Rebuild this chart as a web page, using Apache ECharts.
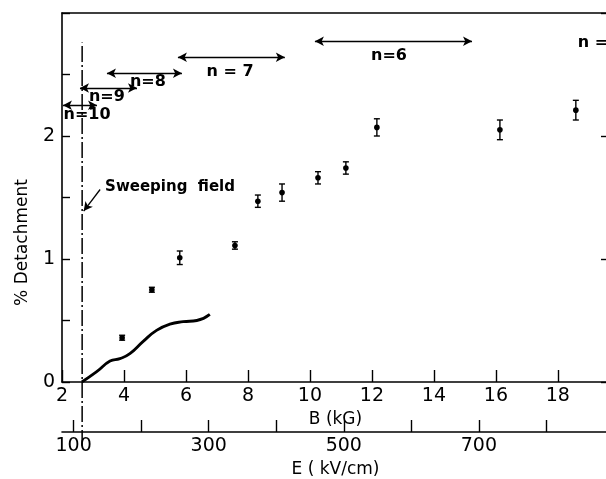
<!DOCTYPE html>
<html>
<head>
<meta charset="utf-8">
<script src="https://cdn.jsdelivr.net/npm/echarts@6/dist/echarts.min.js"></script>
<style>
html, body { margin: 0; padding: 0; background: #fff; }
#main { width: 606px; height: 479px; }
</style>
</head>
<body>
<div id="main"></div>
<script>
// measured points: B (kG), % detachment, error bar half-height
var fieldB = [3.94, 4.9, 5.8, 7.58, 8.32, 9.1, 10.26, 11.16, 12.16, 16.13, 18.58];
var detach = [0.36, 0.75, 1.01, 1.11, 1.47, 1.54, 1.66, 1.74, 2.07, 2.05, 2.21];
var detachErr = [0.02, 0.02, 0.055, 0.03, 0.05, 0.07, 0.05, 0.05, 0.07, 0.08, 0.08];

// calculated curve
var curveB = [2.64, 3.12, 3.55, 3.87, 4.19, 4.62, 5.05, 5.48, 5.91, 6.35, 6.77];
var curveVal = [0, 0.084, 0.17, 0.19, 0.23, 0.33, 0.42, 0.47, 0.49, 0.5, 0.55];

// n ranges (arrows) and their labels
var nText = ['n=10', 'n=9', 'n=8', 'n = 7', 'n=6', 'n = 5'];
var nFrom = [2.03, 2.58, 3.45, 5.74, 10.16, 18.45];
var nTo = [3.13, 4.42, 5.87, 9.19, 15.23, 20.5];
var nLevel = [2.25, 2.39, 2.51, 2.64, 2.77, 2.89];
var nLabelB = [2.81, 3.45, 4.77, 7.42, 12.55, 19.4];
var nLabelY = [2.17, 2.32, 2.44, 2.52, 2.65, 2.76];

// sweeping field line
var sweepB = 2.65;
var sweepTop = 2.76;
var sweepBottom = -0.52;

// E axis ticks
var eTicks = [100, 200, 300, 400, 500, 600, 700, 800];
var eLabels = [100, 300, 500, 700];

var font = 'DejaVu Sans';
var black = '#000';

var errData = fieldB.map(function (b, i) { return [b, detach[i], detachErr[i]]; });
var curveData = curveB.map(function (b, i) { return [b, curveVal[i]]; });
var arrowData = nText.map(function (t, i) {
    return [{ coord: [nFrom[i], nLevel[i]] }, { coord: [nTo[i], nLevel[i]] }];
});
var labelData = nText.map(function (t, i) { return [nLabelB[i], nLabelY[i], t]; });

var myChart = echarts.init(document.getElementById('main'));
var option = {
    animation: false,
    grid: { left: 62, top: 13, right: -3, bottom: 97, outerBoundsMode: 'none' },
    xAxis: [
        {
            type: 'value', min: 2, max: 19.65, interval: 2, position: 'bottom',
            axisLine: { onZero: false, lineStyle: { color: black, width: 1.6 } },
            axisTick: { inside: true, length: 12, lineStyle: { color: black, width: 1.4 } },
            axisLabel: {
                color: black, fontSize: 19, fontFamily: font, margin: 5,
                formatter: function (v) { return (v % 2 === 0 && v < 19) ? v : ''; }
            },
            splitLine: { show: false },
            name: 'B (kG)', nameLocation: 'middle', nameGap: 24,
            nameTextStyle: { color: black, fontSize: 17, fontFamily: font }
        },
        {
            type: 'value', min: 82.8, max: 892.6, position: 'bottom', offset: 50,
            axisLine: { onZero: false, lineStyle: { color: black, width: 1.6 } },
            axisTick: { inside: true, length: 12, customValues: eTicks, lineStyle: { color: black, width: 1.4 } },
            axisLabel: { color: black, fontSize: 19, fontFamily: font, margin: 5, customValues: eLabels },
            splitLine: { show: false },
            name: 'E ( kV/cm)', nameLocation: 'middle', nameGap: 26,
            nameTextStyle: { color: black, fontSize: 17, fontFamily: font }
        },
        {
            type: 'value', min: 2, max: 19.65, position: 'top',
            axisLine: { onZero: false, lineStyle: { color: black, width: 1.6 } },
            axisTick: { show: false }, axisLabel: { show: false }, splitLine: { show: false }
        }
    ],
    yAxis: [
        {
            type: 'value', min: 0, max: 3, interval: 0.5,
            axisLine: { onZero: false, lineStyle: { color: black, width: 1.6 } },
            axisTick: { inside: true, length: 8, lineStyle: { color: black, width: 1.4 } },
            axisLabel: {
                color: black, fontSize: 19, fontFamily: font, margin: 7,
                formatter: function (v) { return (v % 1 === 0 && v < 3) ? v : ''; }
            },
            splitLine: { show: false },
            name: '% Detachment', nameLocation: 'middle', nameGap: 31,
            nameTextStyle: { color: black, fontSize: 17, fontFamily: font, padding: [0, 90, 0, 0] }
        },
        {
            type: 'value', min: 0, max: 3, interval: 1, position: 'right',
            axisLine: { onZero: false, lineStyle: { color: black, width: 1.6 } },
            axisTick: { inside: true, length: 8, lineStyle: { color: black, width: 1.4 } },
            axisLabel: { show: false }, splitLine: { show: false }
        }
    ],
    series: [
        {
            // error bars with dots
            type: 'custom',
            clip: false,
            data: errData,
            renderItem: function (params, api) {
                var b = api.value(0), v = api.value(1), e = api.value(2);
                var c = api.coord([b, v]);
                var hi = api.coord([b, v + e]);
                var lo = api.coord([b, v - e]);
                var st = { stroke: black, lineWidth: 1.4 };
                return {
                    type: 'group',
                    children: [
                        { type: 'line', shape: { x1: c[0], y1: hi[1], x2: c[0], y2: lo[1] }, style: st },
                        { type: 'line', shape: { x1: c[0] - 3, y1: hi[1], x2: c[0] + 3, y2: hi[1] }, style: st },
                        { type: 'line', shape: { x1: c[0] - 3, y1: lo[1], x2: c[0] + 3, y2: lo[1] }, style: st },
                        { type: 'circle', shape: { cx: c[0], cy: c[1], r: 2.8 }, style: { fill: black } }
                    ]
                };
            }
        },
        {
            type: 'line',
            smooth: 0.5,
            symbol: 'none',
            data: curveData,
            lineStyle: { color: black, width: 2.8 }
        },
        {
            // sweeping field line + arrows
            type: 'line',
            symbol: 'none',
            clip: false,
            data: [[sweepB, sweepBottom], [sweepB, sweepTop]],
            lineStyle: { color: black, width: 1.5, type: [16, 3, 2, 3] },
            markLine: {
                silent: true,
                symbol: ['arrow', 'arrow'],
                symbolSize: [7, 9],
                label: { show: false },
                lineStyle: { color: black, width: 1.3, type: 'solid' },
                data: arrowData.concat([
                    [
                        { coord: [3.23, 1.565], symbol: 'none' },
                        { coord: [2.7, 1.39], symbol: 'arrow', lineStyle: { curveness: 0.35 } }
                    ]
                ])
            }
        },
        {
            type: 'scatter',
            symbolSize: 0,
            itemStyle: { opacity: 1 },
            data: labelData,
            label: {
                show: true, position: 'inside', color: black, fontSize: 16, fontFamily: font, fontWeight: 'bold',
                formatter: function (p) { return p.data[2]; }
            }
        },
        {
            type: 'scatter',
            symbolSize: 0,
            itemStyle: { opacity: 1 },
            data: [[3.39, 1.585, 'Sweeping  field']],
            label: {
                show: true, position: 'right', distance: 0, color: black, fontSize: 15, fontFamily: font, fontWeight: 'bold',
                formatter: function (p) { return p.data[2]; }
            }
        }
    ]
};
myChart.setOption(option);
</script>
</body>
</html>
